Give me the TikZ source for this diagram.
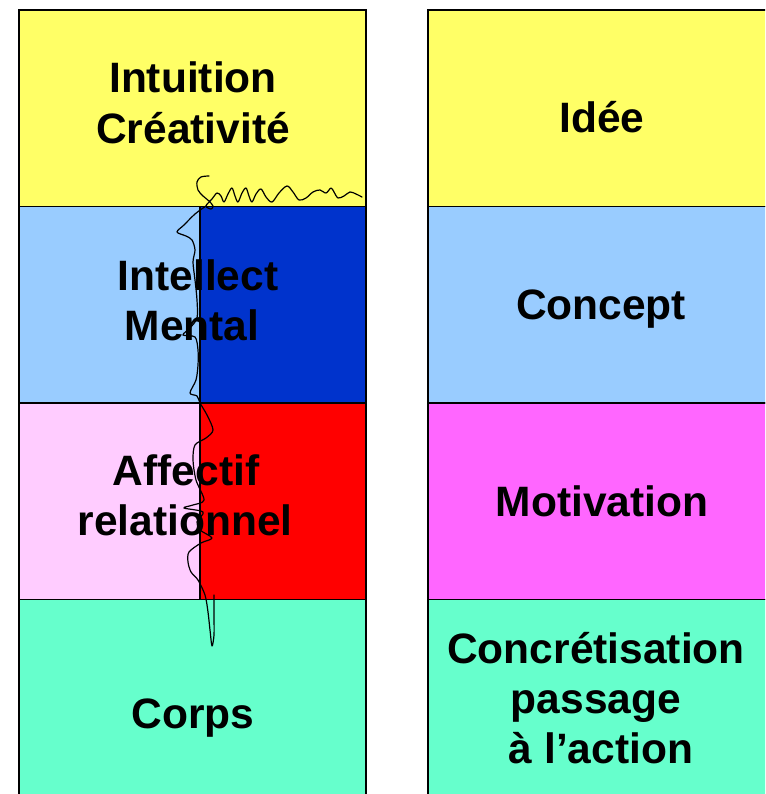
\documentclass[tikz,border=0pt]{standalone}
\usepackage{fontspec}
\setmainfont{Liberation Sans}
\definecolor{cyellow}{HTML}{FFFF66}
\definecolor{clblue}{HTML}{99CCFF}
\definecolor{cdblue}{HTML}{0033CC}
\definecolor{cpink}{HTML}{FFCCFF}
\definecolor{cred}{HTML}{FF0000}
\definecolor{cgreen}{HTML}{66FFCC}
\definecolor{cmag}{HTML}{FF66FF}
\begin{document}
\begin{tikzpicture}[x=1pt,y=-1pt,
  cell/.style={draw=black,line width=1.6pt,inner sep=0pt,outer sep=0pt,anchor=north west,minimum width=347pt,minimum height=196.5pt},
  half/.style={draw=black,line width=1.2pt,inner sep=0pt,outer sep=0pt,anchor=north west,minimum width=166pt,minimum height=196.5pt},
  lbl/.style={font=\fontsize{42.5}{48}\selectfont\bfseries,anchor=base,inner sep=0pt},
  scrib/.style={draw=black,line width=1.2pt,line cap=round,line join=round}]
\useasboundingbox (0,0) rectangle (765,794);
\clip (0,0) rectangle (765,794);
% left column
\node[cell,fill=cyellow] (l1) at (19,10) {};
\node[cell,fill=clblue] (l2) at (19,206.5) {};
\node[half,fill=cdblue] (l2d) at (200,206.5) {};
\node[cell,fill=cpink] (l3) at (19,403) {};
\node[half,fill=cred] (l3d) at (200,403) {};
\node[cell,fill=cgreen] (l4) at (19,599.5) {};
\draw[line width=1.6pt] (l2.north west) -- (l2.north east);
\draw[line width=1.6pt] (l3.north west) -- (l3.north east);
\draw[line width=1.6pt] (l4.north west) -- (l4.north east);
\draw[line width=1.6pt] (l1.north east) -- (l4.south east);
% right column
\node[cell,fill=cyellow] (r1) at (428,10) {};
\node[cell,fill=clblue] (r2) at (428,206.5) {};
\node[cell,fill=cmag] (r3) at (428,403) {};
\node[cell,fill=cgreen] (r4) at (428,599.5) {};
% labels
\node[lbl] (t1a) at (193,93) {Intuition};
\node[lbl] (t1b) at (193,144) {Créativité};
\node[lbl] (t2a) at (198,290) {Intellect};
\node[lbl] (t2b) at (192,340) {Mental};
\node[lbl] (t3a) at (186,485) {Affectif};
\node[lbl] (t3b) at (185,535) {relationnel};
\node[lbl] (t4) at (193,728) {Corps};
\node[lbl] (u1) at (602,133) {Idée};
\node[lbl] (u2) at (601,319) {Concept};
\node[lbl] (u3) at (602,516) {Motivation};
\node[lbl] (u4a) at (596,663) {Concrétisation};
\node[lbl] (u4b) at (596,713) {passage};
\node[lbl] (u4c) at (601,763) {à l’action};
% scribble: wave along the top of the dark zone
\draw[scrib] plot[smooth,tension=0.55] coordinates {
 (209,176) (201,177) (197,182) (198,190) (203,196) (209,201) (213,206) (211,209) (206,206)
 (212,199) (217,193) (221,196) (224,202) (228,194) (232,188) (235,196) (238,202)
 (242,193) (246,188) (249,196) (252,202) (256,194) (261,189) (266,197) (272,202)
 (279,193) (287,186) (293,192) (299,200) (306,198) (313,192) (320,190) (326,193)
 (331,188) (334,192) (338,198) (344,196) (350,192) (356,194) (362,197)};
% scribble: vertical line down the divide
\draw[scrib] plot[smooth,tension=0.5] coordinates {
 (206,206) (195,214) (184,225) (177,232) (186,236) (192,240) (195,250) (193,262)
 (195,280) (197,300) (197,318) (190,328) (183,335) (195,337) (198,350) (198,365)
 (196,380) (190,393) (197,396) (200,403) (207,415) (213,430) (206,438) (195,445)
 (193,460) (196,480) (204,500) (193,505) (184,508) (203,512) (197,522) (200,530)
 (212,538) (201,543) (189,552) (188,562) (191,572) (198,580) (205,595) (208,612)
 (210,630) (212,646) (214,635) (214,615) (214,595)};
\end{tikzpicture}
\end{document}
